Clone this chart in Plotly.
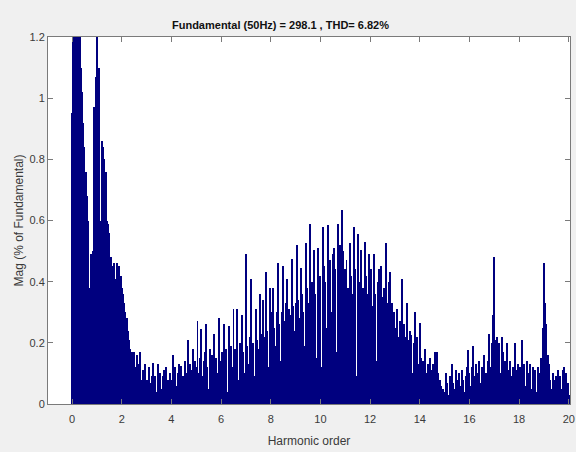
import numpy as np
import plotly.graph_objects as go

# Harmonic order axis: 0 .. 20 in steps of 0.05
step = 0.05
harmonic_order = [round(i * step, 2) for i in range(401)]

# Magnitudes (% of fundamental), one list per harmonic unit
mag_h0 = [0.95, 1.35, 1.45, 1.5, 1.4, 1.3, 1.22, 1.1, 1.02, 0.92,
          0.84, 0.76, 0.68, 0.60, 0.38, 0.49, 0.49, 0.50, 0.97, 1.07]
mag_h1 = [1.3, 0.25, 1.1, 0.6, 0.86, 0.84, 0.80, 0.76, 0.60, 0.59,
          0.56, 0.48, 0.45, 0.42, 0.46, 0.41, 0.46, 0.43, 0.45, 0.42]
mag_h2 = [0.38, 0.36, 0.33, 0.30, 0.28, 0.24, 0.21, 0.18, 0.17, 0.14,
          0.17, 0.12, 0.16, 0.10, 0.13, 0.17, 0.08, 0.11, 0.06, 0.13]
mag_h3 = [0.08, 0.05, 0.12, 0.07, 0.09, 0.135, 0.06, 0.09, 0.04, 0.13,
          0.08, 0.10, 0.05, 0.09, 0.11, 0.06, 0.12, 0.08, 0.04, 0.10]
mag_h4 = [0.08, 0.16, 0.09, 0.12, 0.06, 0.10, 0.13, 0.07, 0.125, 0.09,
          0.05, 0.14, 0.10, 0.21, 0.08, 0.13, 0.11, 0.18, 0.06, 0.14]
mag_h5 = [0.12, 0.27, 0.10, 0.15, 0.245, 0.09, 0.14, 0.17, 0.26, 0.12,
          0.05, 0.18, 0.13, 0.16, 0.23, 0.11, 0.15, 0.10, 0.28, 0.14]
mag_h6 = [0.08, 0.17, 0.26, 0.13, 0.18, 0.04, 0.255, 0.15, 0.19, 0.12,
          0.31, 0.18, 0.16, 0.31, 0.08, 0.20, 0.15, 0.29, 0.17, 0.10]
mag_h7 = [0.49, 0.19, 0.13, 0.22, 0.41, 0.16, 0.20, 0.09, 0.31, 0.21,
          0.18, 0.36, 0.23, 0.14, 0.34, 0.22, 0.43, 0.24, 0.12, 0.38]
mag_h8 = [0.30, 0.22, 0.38, 0.25, 0.19, 0.30, 0.46, 0.26, 0.14, 0.30,
          0.45, 0.27, 0.33, 0.41, 0.20, 0.31, 0.29, 0.475, 0.32, 0.24]
mag_h9 = [0.33, 0.52, 0.34, 0.28, 0.445, 0.36, 0.30, 0.19, 0.525, 0.38,
          0.33, 0.12, 0.59, 0.40, 0.34, 0.505, 0.36, 0.15, 0.51, 0.38]
mag_h10 = [0.42, 0.12, 0.58, 0.45, 0.40, 0.25, 0.585, 0.43, 0.47, 0.30,
           0.49, 0.51, 0.44, 0.17, 0.59, 0.48, 0.52, 0.635, 0.50, 0.35]
mag_h11 = [0.44, 0.47, 0.38, 0.20, 0.525, 0.42, 0.36, 0.58, 0.44, 0.09,
           0.555, 0.40, 0.35, 0.505, 0.38, 0.18, 0.53, 0.42, 0.36, 0.49]
mag_h12 = [0.40, 0.44, 0.32, 0.49, 0.36, 0.14, 0.40, 0.44, 0.30, 0.45,
           0.35, 0.38, 0.20, 0.525, 0.33, 0.40, 0.43, 0.31, 0.33, 0.30]
mag_h13 = [0.25, 0.18, 0.31, 0.22, 0.27, 0.12, 0.41, 0.26, 0.22, 0.13,
           0.33, 0.21, 0.24, 0.225, 0.10, 0.20, 0.30, 0.19, 0.22, 0.13]
mag_h14 = [0.265, 0.15, 0.12, 0.14, 0.18, 0.10, 0.09, 0.13, 0.15, 0.07,
           0.11, 0.13, 0.17, 0.12, 0.17, 0.10, 0.08, 0.06, 0.02, 0.05]
mag_h15 = [0.04, 0.10, 0.07, 0.03, 0.09, 0.06, 0.13, 0.07, 0.05, 0.11,
           0.08, 0.03, 0.10, 0.06, 0.11, 0.08, 0.04, 0.09, 0.12, 0.175]
mag_h16 = [0.10, 0.06, 0.12, 0.19, 0.09, 0.13, 0.03, 0.10, 0.14, 0.07,
           0.12, 0.09, 0.16, 0.10, 0.04, 0.14, 0.23, 0.12, 0.20, 0.29]
mag_h17 = [0.48, 0.21, 0.22, 0.18, 0.20, 0.10, 0.22, 0.17, 0.08, 0.14,
           0.20, 0.11, 0.06, 0.14, 0.09, 0.12, 0.05, 0.20, 0.11, 0.13]
mag_h18 = [0.08, 0.12, 0.21, 0.09, 0.13, 0.06, 0.14, 0.10, 0.08, 0.13,
           0.05, 0.12, 0.09, 0.11, 0.04, 0.12, 0.10, 0.08, 0.15, 0.25]
mag_h19 = [0.46, 0.33, 0.26, 0.16, 0.13, 0.08, 0.05, 0.10, 0.08, 0.03,
           0.09, 0.11, 0.07, 0.09, 0.05, 0.11, 0.12, 0.09, 0.10, 0.07]
mag_h20 = [0.03]

magnitude = (mag_h0 + mag_h1 + mag_h2 + mag_h3 + mag_h4 + mag_h5 + mag_h6 +
             mag_h7 + mag_h8 + mag_h9 + mag_h10 + mag_h11 + mag_h12 + mag_h13 +
             mag_h14 + mag_h15 + mag_h16 + mag_h17 + mag_h18 + mag_h19 + mag_h20)

x_ticks = [0, 2, 4, 6, 8, 10, 12, 14, 16, 18, 20]
y_ticks = [0, 0.2, 0.4, 0.6, 0.8, 1.0, 1.2]
y_tick_labels = ["0", "0.2", "0.4", "0.6", "0.8", "1", "1.2"]

title_text = "<b>Fundamental (50Hz) = 298.1 , THD= 6.82%</b>"

sans = "Liberation Sans, Arial, sans-serif"

fig = go.Figure()
fig.add_trace(go.Bar(
    x=harmonic_order,
    y=magnitude,
    marker=dict(color="#00007f", line=dict(width=0)),
    width=step * 0.8,
    hoverinfo="x+y",
))

axis_common = dict(
    showline=True, linecolor="#7a7a7a", linewidth=1, mirror="ticks",
    ticks="inside", ticklen=5, tickcolor="#7a7a7a",
    showgrid=False, zeroline=False, automargin=False,
    tickfont=dict(family=sans, size=11, color="#3a3a3a"),
)

fig.update_layout(
    width=576, height=452,
    margin=dict(l=48, r=6, t=37, b=48, autoexpand=False),
    paper_bgcolor="#f0f0f0",
    plot_bgcolor="#ffffff",
    bargap=0,
    showlegend=False,
    title=dict(text=title_text, x=0.487, xanchor="center", y=0.945, yanchor="middle",
               automargin=False,
               font=dict(family=sans, size=11, color="#111111")),
    xaxis=dict(range=[-0.97, 20.05], tickvals=x_ticks, ticklabelstandoff=5,
               title=dict(text="Harmonic order", standoff=12,
                          font=dict(family=sans, size=12, color="#3a3a3a")),
               **axis_common),
    yaxis=dict(range=[0, 1.2], tickvals=y_ticks, ticktext=y_tick_labels,
               title=dict(text="Mag (% of Fundamental)", standoff=3,
                          font=dict(family=sans, size=12, color="#3a3a3a")),
               **axis_common),
)

fig.write_html("out.html", config={"displayModeBar": False},
               post_script="document.body.style.margin='0';")
